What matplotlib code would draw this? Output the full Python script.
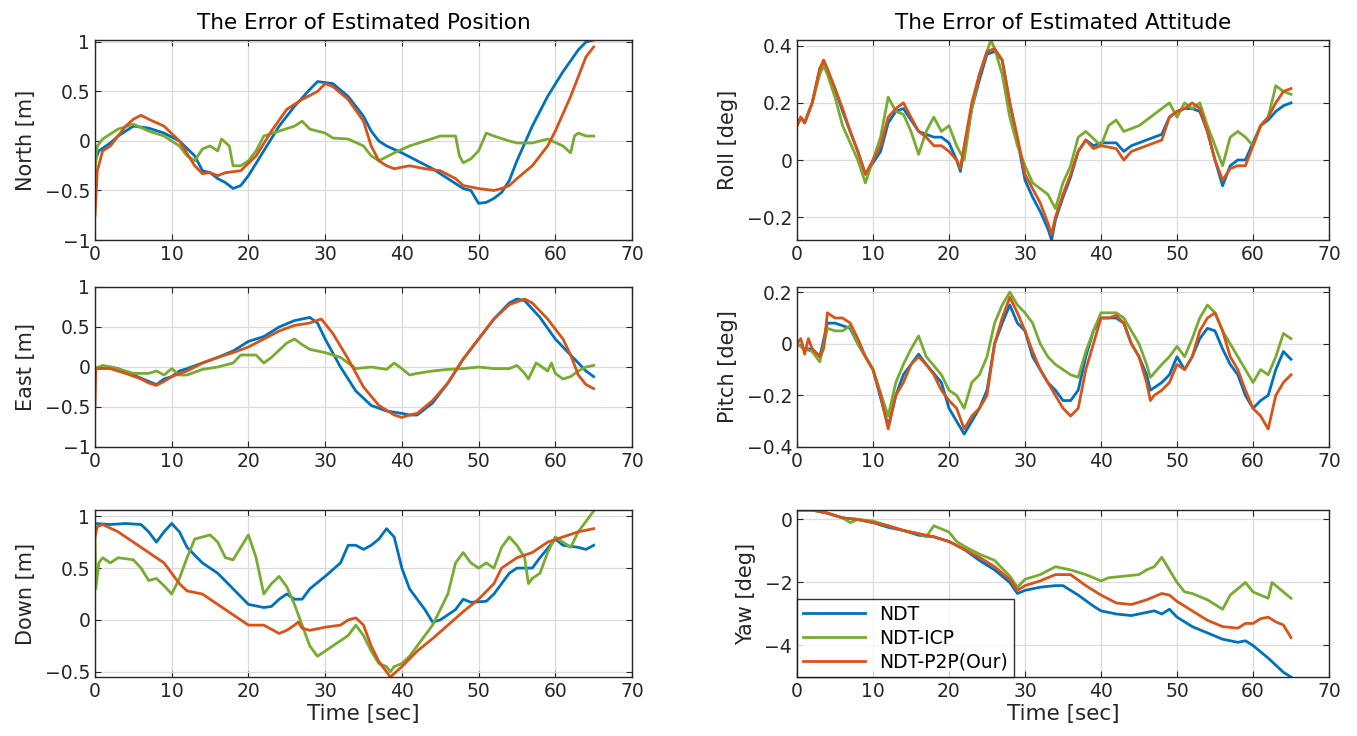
"""Error of estimated position / attitude, NDT vs NDT-ICP vs NDT-P2P."""

import matplotlib
matplotlib.use("Agg")
import matplotlib.pyplot as plt
import numpy as np

SERIES_NAMES = ["NDT", "NDT-ICP", "NDT-P2P(Our)"]
SERIES_COLORS = ["#0072BD", "#77AC30", "#D95319"]

# (time [s], error) points
north_ndt = [(0, -0.2), (0.5, -0.1), (2, -0.02), (3, 0.05), (5, 0.15), (7, 0.13), (9, 0.08), (11, 0.0), (13, -0.15), (14, -0.3), (15, -0.32), (16, -0.38), (17, -0.42), (18, -0.48), (19, -0.45), (20, -0.35), (22, -0.1), (24, 0.15), (26, 0.35), (28, 0.52), (29, 0.6), (31, 0.58), (33, 0.45), (35, 0.25), (36, 0.1), (37, 0.0), (38, -0.05), (40, -0.12), (42, -0.2), (44, -0.28), (46, -0.38), (48, -0.48), (49, -0.5), (50, -0.63), (51, -0.62), (52, -0.58), (53, -0.52), (54, -0.4), (55, -0.2), (57, 0.15), (59, 0.45), (61, 0.7), (63, 0.92), (64, 1.0), (65, 1.02)]
north_icp = [(0, -0.3), (0.3, -0.05), (1, 0.02), (3, 0.12), (5, 0.17), (7, 0.1), (9, 0.05), (11, -0.05), (12, -0.15), (13, -0.2), (14, -0.08), (15, -0.05), (16, -0.1), (16.5, 0.02), (17.5, -0.05), (18, -0.25), (19, -0.25), (20, -0.2), (21, -0.1), (22, 0.05), (24, 0.1), (26, 0.15), (27, 0.2), (28, 0.12), (30, 0.08), (31, 0.03), (33, 0.02), (35, -0.05), (36, -0.15), (37, -0.2), (39, -0.12), (41, -0.05), (43, 0.0), (45, 0.05), (47, 0.05), (47.5, -0.15), (48, -0.22), (49, -0.18), (50, -0.1), (51, 0.08), (52, 0.05), (54, 0.0), (55, -0.02), (57, -0.02), (59, 0.02), (61, -0.05), (62, -0.12), (62.5, 0.05), (63, 0.08), (64, 0.05), (65, 0.05)]
north_p2p = [(0, -0.75), (0.3, -0.3), (1, -0.1), (2, -0.05), (4, 0.15), (5, 0.22), (6, 0.26), (7, 0.22), (9, 0.15), (11, 0.0), (13, -0.25), (14, -0.33), (15, -0.32), (16, -0.35), (17, -0.32), (19, -0.3), (21, -0.15), (23, 0.1), (25, 0.32), (27, 0.42), (29, 0.5), (30, 0.58), (31, 0.55), (33, 0.42), (35, 0.2), (36, -0.05), (37, -0.2), (38, -0.25), (39, -0.28), (41, -0.25), (43, -0.28), (45, -0.3), (47, -0.38), (48, -0.45), (50, -0.48), (52, -0.5), (53, -0.48), (54, -0.45), (55, -0.38), (57, -0.25), (59, -0.05), (60, 0.1), (62, 0.45), (64, 0.85), (65, 0.95)]

east_ndt = [(0, -0.02), (1, -0.02), (2, 0.0), (3, -0.02), (5, -0.1), (7, -0.18), (8, -0.22), (9, -0.15), (10, -0.12), (11, -0.05), (12, -0.02), (14, 0.05), (16, 0.12), (18, 0.2), (20, 0.32), (22, 0.38), (24, 0.5), (26, 0.58), (28, 0.62), (29, 0.55), (30, 0.35), (32, 0.0), (34, -0.3), (36, -0.48), (38, -0.55), (40, -0.58), (41, -0.6), (42, -0.6), (44, -0.45), (46, -0.2), (48, 0.1), (50, 0.35), (52, 0.6), (54, 0.8), (55, 0.85), (56, 0.83), (58, 0.62), (60, 0.35), (62, 0.15), (64, -0.05), (65, -0.12)]
east_icp = [(0, -0.02), (1, 0.02), (2, 0.0), (4, -0.05), (5, -0.08), (7, -0.08), (8, -0.05), (9, -0.1), (10, -0.02), (11, -0.1), (12, -0.1), (14, -0.03), (16, 0.0), (18, 0.05), (19, 0.15), (21, 0.15), (22, 0.05), (23, 0.12), (25, 0.3), (26, 0.35), (27, 0.28), (28, 0.22), (30, 0.18), (32, 0.12), (34, -0.02), (36, 0.0), (38, -0.03), (39, 0.05), (40, -0.02), (41, -0.1), (42, -0.08), (44, -0.05), (46, -0.03), (48, -0.02), (50, 0.0), (52, -0.02), (54, -0.02), (55, 0.02), (56, -0.08), (56.5, -0.15), (57.5, 0.05), (58, 0.02), (59, -0.05), (59.5, 0.05), (60, -0.08), (61, -0.15), (62, -0.12), (63, -0.05), (64, 0.0), (65, 0.02)]
east_p2p = [(0, -0.5), (0.1, -0.02), (2, -0.02), (4, -0.08), (6, -0.15), (7, -0.2), (8, -0.23), (9, -0.18), (10, -0.12), (12, -0.05), (14, 0.05), (16, 0.12), (18, 0.18), (20, 0.25), (22, 0.35), (24, 0.45), (26, 0.52), (28, 0.55), (29.5, 0.6), (31, 0.42), (33, 0.1), (35, -0.25), (37, -0.48), (39, -0.6), (40, -0.63), (41, -0.6), (42, -0.58), (44, -0.42), (46, -0.2), (48, 0.1), (50, 0.35), (52, 0.6), (54, 0.78), (56, 0.85), (57, 0.8), (59, 0.6), (61, 0.35), (62, 0.15), (63, -0.1), (64, -0.22), (65, -0.27)]

down_ndt = [(0, 0.93), (2, 0.92), (4, 0.93), (6, 0.92), (7, 0.85), (8, 0.75), (9, 0.85), (10, 0.93), (11, 0.85), (12, 0.7), (14, 0.55), (16, 0.45), (18, 0.3), (20, 0.15), (22, 0.12), (23, 0.13), (24, 0.2), (25, 0.25), (26, 0.2), (27, 0.2), (28, 0.3), (30, 0.42), (32, 0.55), (33, 0.72), (34, 0.72), (35, 0.68), (36, 0.72), (37, 0.78), (38, 0.88), (39, 0.8), (40, 0.5), (41, 0.3), (43, 0.1), (44, -0.02), (45, 0.0), (47, 0.1), (48, 0.2), (49, 0.17), (51, 0.18), (52, 0.25), (54, 0.45), (55, 0.5), (57, 0.5), (58, 0.6), (60, 0.78), (61, 0.72), (63, 0.7), (64, 0.68), (65, 0.72)]
down_icp = [(0, 0.8), (0.1, 0.3), (0.5, 0.55), (1, 0.6), (2, 0.55), (3, 0.6), (5, 0.58), (6, 0.5), (7, 0.38), (8, 0.4), (9, 0.33), (10, 0.25), (11, 0.4), (12, 0.6), (13, 0.78), (14, 0.8), (15, 0.82), (16, 0.75), (17, 0.6), (18, 0.58), (19, 0.7), (20, 0.82), (21, 0.6), (22, 0.25), (23, 0.35), (24, 0.42), (25, 0.32), (26, 0.15), (27, -0.05), (28, -0.25), (29, -0.35), (31, -0.25), (33, -0.15), (34, -0.05), (35, -0.15), (36, -0.3), (37, -0.42), (38, -0.45), (38.5, -0.5), (39, -0.45), (40, -0.42), (41, -0.35), (42, -0.25), (44, -0.05), (45, 0.1), (46, 0.25), (47, 0.55), (48, 0.65), (49, 0.55), (50, 0.5), (51, 0.55), (52, 0.5), (53, 0.7), (54, 0.8), (55, 0.72), (56, 0.6), (56.5, 0.35), (57, 0.4), (58, 0.45), (59, 0.65), (60, 0.8), (61, 0.75), (62, 0.7), (63, 0.85), (64, 0.95), (65, 1.05)]
down_p2p = [(0, 0.8), (0.3, 0.9), (1, 0.92), (3, 0.85), (5, 0.75), (7, 0.65), (9, 0.55), (10, 0.45), (11, 0.35), (12, 0.28), (14, 0.25), (16, 0.15), (18, 0.05), (20, -0.05), (22, -0.05), (24, -0.13), (25, -0.1), (26, -0.05), (26.5, -0.02), (27, -0.08), (28, -0.1), (30, -0.07), (32, -0.05), (33, 0.0), (34, 0.02), (35, -0.05), (36, -0.25), (37, -0.4), (38, -0.5), (38.5, -0.55), (40, -0.45), (42, -0.3), (44, -0.18), (46, -0.05), (48, 0.08), (50, 0.2), (52, 0.35), (53, 0.5), (55, 0.6), (57, 0.65), (59, 0.75), (61, 0.8), (63, 0.85), (65, 0.88)]

roll_ndt = [(0, 0.12), (0.5, 0.15), (1, 0.13), (2, 0.2), (3, 0.32), (3.5, 0.34), (4, 0.31), (5, 0.25), (6, 0.17), (7, 0.1), (8, 0.03), (9, -0.05), (10, -0.01), (11, 0.03), (12, 0.13), (13, 0.17), (14, 0.18), (15, 0.14), (16, 0.1), (17, 0.09), (18, 0.08), (19, 0.08), (20, 0.06), (21, 0.0), (21.5, -0.04), (22, 0.04), (23, 0.18), (24, 0.28), (25, 0.37), (26, 0.38), (27, 0.35), (28, 0.2), (29, 0.07), (30, -0.07), (31, -0.13), (32, -0.18), (33, -0.24), (33.5, -0.28), (34, -0.21), (35, -0.13), (36, -0.06), (37, 0.03), (38, 0.07), (39, 0.05), (40, 0.06), (42, 0.06), (43, 0.03), (44, 0.05), (46, 0.07), (48, 0.09), (49, 0.15), (50, 0.17), (51, 0.18), (52, 0.18), (53, 0.17), (54, 0.1), (55, 0.0), (56, -0.09), (57, -0.02), (58, 0.0), (59, 0.0), (60, 0.06), (61, 0.12), (62, 0.14), (63, 0.17), (64, 0.19), (65, 0.2)]
roll_icp = [(0, 0.12), (0.5, 0.15), (1, 0.13), (2, 0.2), (3, 0.3), (3.5, 0.33), (4, 0.3), (5, 0.22), (6, 0.12), (7, 0.06), (8, 0.0), (9, -0.08), (10, 0.0), (11, 0.08), (12, 0.22), (13, 0.17), (14, 0.16), (15, 0.1), (16, 0.02), (17, 0.1), (18, 0.15), (19, 0.1), (20, 0.12), (21, 0.05), (22, 0.0), (23, 0.18), (24, 0.3), (25, 0.38), (25.5, 0.42), (26, 0.39), (27, 0.3), (28, 0.15), (29, 0.05), (30, -0.02), (31, -0.08), (32, -0.1), (33, -0.12), (34, -0.17), (35, -0.08), (36, -0.02), (37, 0.08), (38, 0.1), (40, 0.05), (41, 0.12), (42, 0.14), (43, 0.1), (45, 0.12), (47, 0.16), (49, 0.2), (50, 0.15), (51, 0.2), (52, 0.18), (53, 0.2), (54, 0.12), (55, 0.05), (56, -0.02), (57, 0.08), (58, 0.1), (59, 0.08), (60, 0.05), (61, 0.12), (62, 0.15), (63, 0.26), (64, 0.24), (65, 0.23)]
roll_p2p = [(0, 0.12), (0.5, 0.15), (1, 0.13), (2, 0.2), (3, 0.32), (3.5, 0.35), (4, 0.32), (5, 0.25), (6, 0.18), (7, 0.1), (8, 0.03), (9, -0.05), (10, 0.0), (11, 0.05), (12, 0.15), (13, 0.18), (14, 0.2), (15, 0.15), (16, 0.1), (17, 0.08), (18, 0.05), (19, 0.05), (20, 0.03), (21, 0.0), (21.5, -0.03), (22, 0.05), (23, 0.2), (24, 0.3), (25, 0.38), (26, 0.39), (27, 0.35), (28, 0.2), (29, 0.08), (30, -0.05), (31, -0.1), (32, -0.15), (33, -0.22), (33.5, -0.26), (34, -0.2), (35, -0.12), (36, -0.05), (37, 0.03), (38, 0.07), (39, 0.04), (40, 0.05), (42, 0.04), (43, 0.0), (44, 0.03), (46, 0.05), (48, 0.07), (49, 0.15), (50, 0.17), (51, 0.18), (52, 0.2), (53, 0.18), (54, 0.1), (55, 0.0), (56, -0.07), (57, -0.03), (58, -0.02), (59, -0.02), (60, 0.05), (61, 0.12), (62, 0.15), (63, 0.2), (64, 0.24), (65, 0.25)]

pitch_ndt = [(0, 0.0), (1, -0.02), (2, -0.02), (3, -0.05), (4, 0.08), (5, 0.08), (6, 0.07), (7, 0.06), (8, 0.0), (10, -0.1), (12, -0.32), (13, -0.2), (14, -0.12), (15, -0.08), (16, -0.04), (17, -0.08), (19, -0.15), (20, -0.25), (21, -0.3), (22, -0.35), (23, -0.3), (24, -0.25), (25, -0.18), (26, 0.0), (27, 0.08), (28, 0.15), (29, 0.08), (30, 0.05), (31, -0.05), (32, -0.1), (33, -0.15), (34, -0.18), (35, -0.22), (36, -0.22), (37, -0.18), (38, -0.05), (39, 0.05), (40, 0.1), (42, 0.1), (43, 0.08), (44, 0.0), (45, -0.05), (46, -0.12), (46.5, -0.18), (48, -0.15), (49, -0.12), (50, -0.05), (51, -0.1), (52, -0.05), (53, 0.02), (54, 0.06), (55, 0.05), (56, -0.02), (57, -0.08), (58, -0.12), (59, -0.2), (60, -0.25), (61, -0.22), (62, -0.2), (63, -0.1), (64, -0.03), (65, -0.06)]
pitch_icp = [(0, 0.0), (1, -0.02), (2, -0.03), (3, -0.07), (4, 0.06), (5, 0.05), (6, 0.05), (7, 0.07), (8, 0.0), (10, -0.1), (12, -0.28), (13, -0.15), (14, -0.08), (15, -0.02), (16, 0.03), (17, -0.05), (19, -0.12), (20, -0.18), (21, -0.2), (22, -0.25), (23, -0.15), (24, -0.12), (25, -0.05), (26, 0.08), (27, 0.15), (28, 0.2), (29, 0.15), (30, 0.12), (31, 0.08), (32, 0.0), (33, -0.05), (34, -0.08), (35, -0.1), (36, -0.12), (37, -0.13), (38, -0.03), (39, 0.05), (40, 0.12), (42, 0.12), (43, 0.1), (44, 0.05), (45, 0.0), (46, -0.08), (46.5, -0.13), (48, -0.08), (49, -0.05), (50, -0.01), (51, -0.05), (52, 0.02), (53, 0.1), (54, 0.15), (55, 0.12), (56, 0.05), (57, 0.0), (58, -0.05), (59, -0.1), (60, -0.15), (61, -0.1), (62, -0.12), (63, -0.05), (64, 0.04), (65, 0.02)]
pitch_p2p = [(0, 0.0), (0.5, 0.02), (1, -0.04), (1.5, 0.02), (2, -0.02), (3, -0.05), (3.5, -0.02), (4, 0.12), (5, 0.1), (6, 0.1), (7, 0.08), (8, 0.02), (9, -0.05), (10, -0.1), (11, -0.2), (12, -0.33), (13, -0.2), (14, -0.15), (15, -0.08), (16, -0.05), (17, -0.08), (18, -0.12), (19, -0.18), (20, -0.22), (21, -0.25), (22, -0.33), (23, -0.28), (24, -0.25), (25, -0.2), (26, 0.0), (27, 0.1), (28, 0.18), (29, 0.12), (30, 0.05), (31, -0.03), (32, -0.1), (33, -0.15), (34, -0.2), (35, -0.25), (36, -0.28), (37, -0.25), (38, -0.1), (39, 0.0), (40, 0.1), (41, 0.1), (42, 0.11), (43, 0.08), (44, 0.0), (45, -0.05), (46, -0.15), (46.5, -0.22), (47, -0.2), (48, -0.18), (49, -0.15), (50, -0.08), (51, -0.1), (52, -0.05), (53, 0.05), (54, 0.1), (55, 0.12), (56, 0.05), (57, -0.05), (58, -0.1), (59, -0.18), (60, -0.25), (61, -0.28), (62, -0.33), (63, -0.2), (64, -0.15), (65, -0.12)]

yaw_ndt = [(0, 0.3), (2, 0.3), (4, 0.2), (6, 0.05), (8, 0.0), (10, -0.1), (12, -0.25), (14, -0.35), (16, -0.5), (18, -0.55), (20, -0.7), (22, -0.95), (24, -1.3), (26, -1.6), (28, -2.0), (29, -2.35), (30, -2.25), (32, -2.15), (34, -2.1), (35, -2.1), (37, -2.4), (39, -2.75), (40, -2.9), (42, -3.0), (44, -3.05), (46, -2.95), (47, -2.9), (48, -3.0), (49, -2.85), (50, -3.1), (52, -3.4), (54, -3.6), (56, -3.8), (58, -3.9), (59, -3.85), (60, -4.0), (62, -4.4), (64, -4.85), (65, -5.0)]
yaw_icp = [(0, 0.3), (2, 0.3), (4, 0.2), (6, 0.05), (7, -0.1), (8, 0.0), (10, -0.05), (12, -0.2), (14, -0.35), (16, -0.45), (17, -0.55), (18, -0.2), (19, -0.3), (20, -0.4), (21, -0.7), (22, -0.85), (24, -1.1), (26, -1.3), (28, -1.8), (29, -2.15), (30, -1.9), (32, -1.75), (34, -1.5), (36, -1.6), (38, -1.75), (40, -1.95), (41, -1.85), (43, -1.8), (45, -1.75), (46, -1.6), (47, -1.5), (48, -1.2), (49, -1.6), (50, -2.0), (51, -2.3), (52, -2.35), (54, -2.55), (56, -2.85), (57, -2.4), (58, -2.2), (59, -2.0), (60, -2.3), (62, -2.5), (62.5, -2.0), (63, -2.1), (64, -2.3), (65, -2.5)]
yaw_p2p = [(0, 0.3), (2, 0.3), (4, 0.2), (6, 0.05), (8, 0.0), (10, -0.1), (12, -0.2), (14, -0.35), (16, -0.45), (18, -0.55), (20, -0.7), (22, -0.95), (24, -1.2), (26, -1.5), (28, -1.9), (29, -2.25), (30, -2.1), (32, -1.95), (34, -1.75), (36, -1.75), (38, -2.1), (40, -2.4), (42, -2.65), (44, -2.7), (46, -2.55), (48, -2.35), (49, -2.4), (50, -2.6), (52, -2.9), (54, -3.2), (56, -3.4), (58, -3.45), (59, -3.3), (60, -3.3), (61, -3.15), (62, -3.1), (63, -3.25), (64, -3.35), (65, -3.75)]

# panel: (series, ylabel, ylim, yticks)
PANELS = [
    ([north_ndt, north_icp, north_p2p], "North [m]", (-1, 1.02), [-1, -0.5, 0, 0.5, 1]),
    ([roll_ndt, roll_icp, roll_p2p], "Roll [deg]", (-0.28, 0.42), [-0.2, 0, 0.2, 0.4]),
    ([east_ndt, east_icp, east_p2p], "East [m]", (-1, 1), [-1, -0.5, 0, 0.5, 1]),
    ([pitch_ndt, pitch_icp, pitch_p2p], "Pitch [deg]", (-0.4, 0.22), [-0.4, -0.2, 0, 0.2]),
    ([down_ndt, down_icp, down_p2p], "Down [m]", (-0.55, 1.06), [-0.5, 0, 0.5, 1]),
    ([yaw_ndt, yaw_icp, yaw_p2p], "Yaw [deg]", (-5, 0.3), [-4, -2, 0]),
]

plt.rcParams["font.family"] = ["DejaVu Sans"]
fig = plt.figure(figsize=(13.57, 7.36), dpi=100)

W, H = 1357.0, 736.0
col_x = [(95, 632), (797, 1329)]
row_y = [(40, 240), (287, 447), (510, 677)]

axes = []
for k, (series, ylabel, ylim, yticks) in enumerate(PANELS):
    r, c = divmod(k, 2)
    x0, x1 = col_x[c]
    y0, y1 = row_y[r]
    ax = fig.add_axes([x0 / W, 1 - y1 / H, (x1 - x0) / W, (y1 - y0) / H])
    for pts, name, color in zip(series, SERIES_NAMES, SERIES_COLORS):
        arr = np.array(pts)
        ax.plot(arr[:, 0], arr[:, 1], color=color, lw=2.0, label=name)
    ax.set_xlim(0, 70)
    ax.set_xticks(range(0, 71, 10))
    ax.set_ylim(*ylim)
    ax.set_yticks(yticks)
    ax.set_yticklabels([f"{v:g}".replace("-", "\u2212") for v in yticks])
    ax.grid(True, color="#dcdcdc", lw=0.9)
    ax.set_axisbelow(True)
    ax.tick_params(direction="in", labelsize=13.5, length=4, top=True, right=True, colors="#262626")
    for sp in ax.spines.values():
        sp.set_color("#262626")
        sp.set_linewidth(1.0)
    ax.set_ylabel(ylabel, fontsize=15, color="#262626", labelpad=6)
    if r == 2:
        ax.set_xlabel("Time [sec]", fontsize=15.5, color="#262626", labelpad=2)
    axes.append(ax)

axes[0].set_title("The Error of Estimated Position", fontsize=15.5, pad=8)
axes[1].set_title("The Error of Estimated Attitude", fontsize=15.5, pad=8)

leg = axes[5].legend(loc="lower left", fontsize=13.5, frameon=True, fancybox=False,
                     borderaxespad=0.0, handlelength=3.3, borderpad=0.3, labelspacing=0.25)
leg.get_frame().set_edgecolor("#000000")
leg.get_frame().set_linewidth(1.0)

fig.savefig("out.png", dpi=100)
